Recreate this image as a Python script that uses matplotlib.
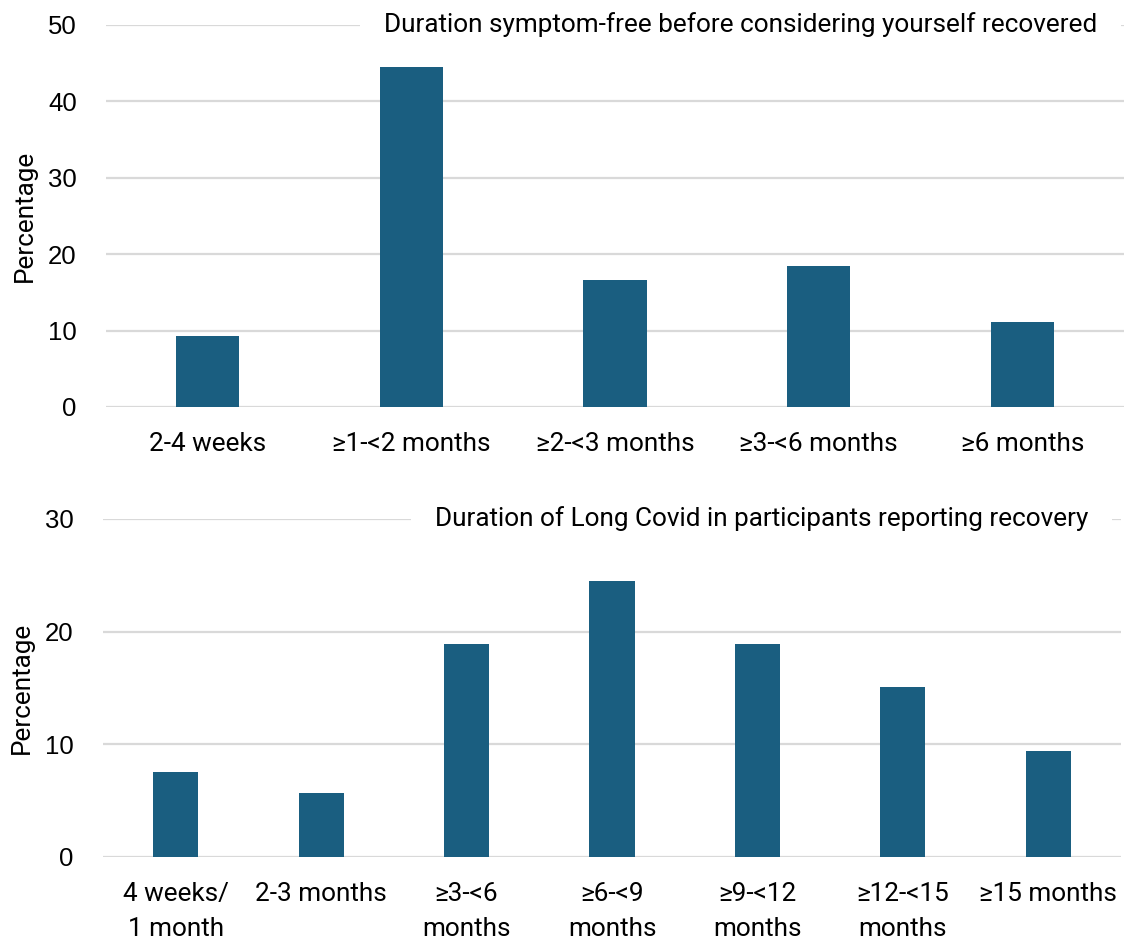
import matplotlib
matplotlib.use("Agg")
import matplotlib.pyplot as plt

# Figure 1: time symptom-free before considering oneself recovered (n = 54)
recovered_cats = ["2-4 weeks", "≥1-<2 months", "≥2-<3 months", "≥3-<6 months", "≥6 months"]
recovered_pct = [9.26, 44.44, 16.67, 18.52, 11.11]
recovered_title = "Duration symptom-free before considering yourself recovered"

# Figure 2: duration of Long Covid among those reporting recovery (n = 53)
duration_cats = ["4 weeks/\n1 month", "2-3 months", "≥3-<6\nmonths", "≥6-<9\nmonths",
                 "≥9-<12\nmonths", "≥12-<15\nmonths", "≥15 months"]
duration_pct = [7.55, 5.66, 18.87, 24.53, 18.87, 15.09, 9.43]
duration_title = "Duration of Long Covid in participants reporting recovery"

BAR = "#1a5e80"
GRID = "#d9d9d9"
LABEL_FONT = ["Roboto", "DejaVu Sans"]
NUM_FONT = ["Liberation Sans", "DejaVu Sans"]
FS = 18.8

W, H = 1124, 941
fig = plt.figure(figsize=(W / 100, H / 100), dpi=100)


def px_axes(left, top, right, bottom):
    return fig.add_axes([left / W, 1 - bottom / H, (right - left) / W, (bottom - top) / H])


def draw(ax, cats, vals, ymax, title, title_right):
    x = range(len(cats))
    ax.bar(x, vals, width=0.31, color=BAR, zorder=3)
    ax.set_xlim(-0.5, len(cats) - 0.5)
    ax.set_ylim(0, ymax)
    ax.set_yticks(range(0, ymax + 1, 10))
    ax.set_xticks(list(x))
    ax.set_xticklabels(cats, family=LABEL_FONT, fontsize=FS, linespacing=1.6)
    for t in ax.get_yticklabels():
        t.set_family(NUM_FONT)
        t.set_fontsize(18.5)
    ax.tick_params(axis="both", length=0)
    ax.tick_params(axis="y", pad=21)
    ax.tick_params(axis="x", pad=18)
    ax.grid(axis="y", color=GRID, linewidth=1.6, zorder=0)
    ax.set_axisbelow(True)
    for s in ax.spines.values():
        s.set_visible(False)
    ax.set_ylabel("Percentage", family=LABEL_FONT, fontsize=FS, labelpad=8)
    ax.text(title_right, 1.0, title, transform=ax.transAxes, ha="right", va="center",
            family=LABEL_FONT, fontsize=FS, zorder=5, clip_on=False,
            bbox=dict(facecolor="white", edgecolor="none", boxstyle="square,pad=0.9"))


ax1 = px_axes(106, 25, 1124, 407)
draw(ax1, recovered_cats, recovered_pct, 50, recovered_title, (1097 - 106) / (1124 - 106))

ax2 = px_axes(103, 519, 1121, 857)
draw(ax2, duration_cats, duration_pct, 30, duration_title, (1088 - 103) / (1121 - 103))

fig.savefig("out.png", dpi=100, facecolor="white")
